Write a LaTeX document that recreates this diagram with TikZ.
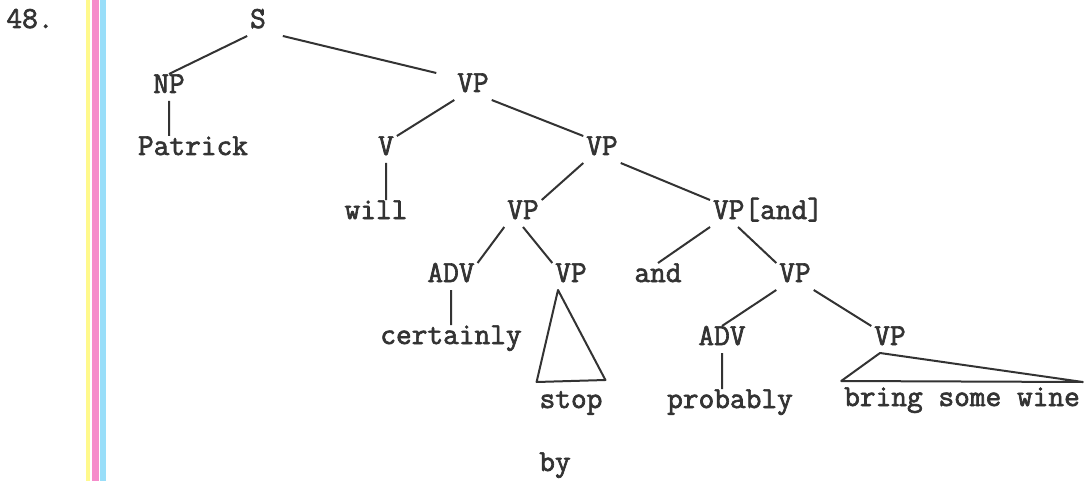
\documentclass[tikz,border=0pt]{standalone}
\usepackage{fontspec}
\newfontfamily\treefont{Latin Modern Mono}[FakeBold=2.2]
\definecolor{ink}{HTML}{333333}

\begin{document}
\begin{tikzpicture}[x=1pt,y=-1pt,line width=2pt,draw=ink,
  every node/.style={anchor=base,inner sep=2pt,text height=16pt,text depth=5pt,
    text=ink,font=\fontsize{30.5}{34}\treefont}]
  \useasboundingbox (0,0) rectangle (1091,481);
  % colour stripes at the page edge
  \fill[yellow!45]  (86,0)  rectangle (90,481);
  \fill[magenta!45] (92,0)  rectangle (99,481);
  \fill[cyan!40]    (100,0) rectangle (106,481);

  \node (num)   at (30,28)   {48.};
  \node (S)     at (258,28)  {S};
  \node (NP)    at (169,93)  {NP};
  \node (VP1)   at (473,92)  {VP};
  \node (Pat)   at (193,155) {Patrick};
  \node (V)     at (386,155) {V};
  \node (VP2)   at (602,155) {VP};
  \node (will)  at (376,219) {will};
  \node (VP3)   at (523,219) {VP};
  \node (VPand) at (768,219) {VP[and]};
  \node (ADV1)  at (451,282) {ADV};
  \node (VP6)   at (571,282) {VP};
  \node (and)   at (658,282) {and};
  \node (VP4)   at (795,282) {VP};
  \node (cert)  at (451,344) {certainly};
  \node (ADV2)  at (722,345) {ADV};
  \node (VP5)   at (890,345) {VP};
  \node (stop)  at (571,408) {stop};
  \node (prob)  at (730,408) {probably};
  \node (bsw)   at (962,406) {bring some wine};
  \node (by)    at (555,471) {by};

  \path[draw] (S.south west) -- (NP.north)
              (NP.south) -- (NP.south |- Pat.north)
              ([xshift=14pt]S.south east) -- ([xshift=-18pt]VP1.north west)
              (VP1.south west) -- (V.north east)
              (V.south) -- (V.south |- will.north)
              (VP1.south east) -- (VP2.north west)
              (VP2.south west) -- (VP3.north east)
              (VP2.south east) -- (VPand.north west)
              (VPand.south west) -- (and.north)
              ([xshift=-30pt]VPand.south) -- (VP4.north west)
              (VP3.south west) -- (ADV1.north east)
              (VP3.south) -- (VP6.north west)
              (ADV1.south) -- (ADV1.south |- cert.north)
              (VP4.south west) -- (ADV2.north)
              (VP4.south east) -- (VP5.north west)
              (ADV2.south) -- (ADV2.south |- prob.north);

  % triangles over unanalysed phrases
  \draw[line join=round] ([xshift=-13pt]VP6.south) -- ([yshift=7pt]stop.north west)
                          -- ([yshift=9pt]stop.north east) -- cycle;
  \draw[line join=round] ([xshift=-10pt]VP5.south) -- ([yshift=6pt]bsw.north west)
                          -- ([yshift=5pt]bsw.north east) -- cycle;
\end{tikzpicture}
\end{document}
